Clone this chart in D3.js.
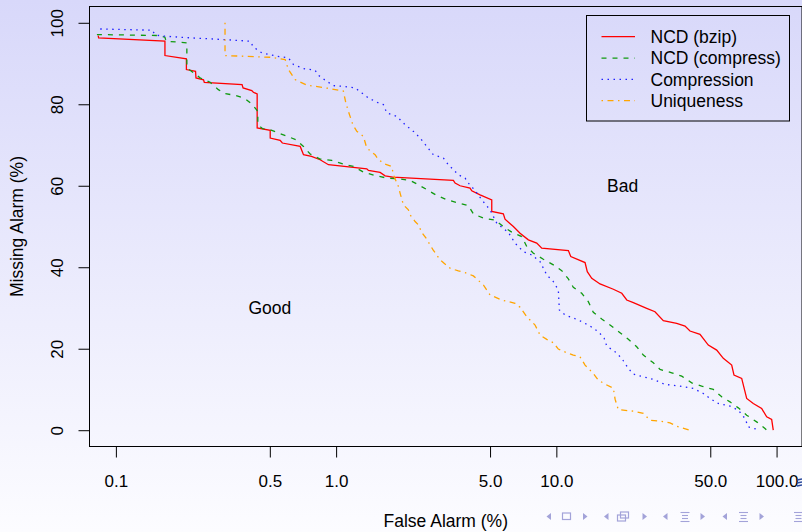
<!DOCTYPE html>
<html>
<head>
<meta charset="utf-8">
<script src="https://cdn.jsdelivr.net/npm/d3@7"></script>
<style>
  html, body { margin: 0; padding: 0; }
  body { width: 802px; height: 532px; overflow: hidden; }
  text { font-family: 'Liberation Sans', Arial, Helvetica, sans-serif; fill: #000; }
</style>
</head>
<body>
<div id="chart"></div>
<script>
// axis ticks
const xLimits = [0.1, 99]
const xTicks = [0.1, 0.5, 1, 5, 10, 50, 100]
const xTickLabels = ['0.1', '0.5', '1.0', '5.0', '10.0', '50.0', '100.0']
const yLimits = [0, 100]
const yTicks = [0, 20, 40, 60, 80, 100]

const seriesNames = ['NCD (bzip)', 'NCD (compress)', 'Compression', 'Uniqueness']
const regionLabels = ['Good', 'Bad']
const regionX = [0.5, 20]
const regionY = [30, 60]

// [false alarm %, missing alarm %]
const ncdBzip = [
  [0.0831, 96.88], [0.0835, 96.31], [0.167, 95.48], [0.167, 91.96], [0.209, 91.15], [0.209, 88.52],
  [0.230, 88.10], [0.231, 86.48], [0.250, 85.99], [0.252, 85.40], [0.374, 84.83], [0.378, 84.02],
  [0.414, 83.35], [0.421, 82.94], [0.438, 82.54], [0.438, 74.18], [0.502, 73.59], [0.502, 71.72],
  [0.557, 71.13], [0.570, 70.49], [0.687, 69.66], [0.711, 67.62], [0.773, 67.20], [0.846, 66.39],
  [0.923, 65.16], [1.378, 64.17], [1.402, 63.76], [1.584, 63.27], [1.669, 62.45], [1.809, 62.13],
  [3.408, 61.30], [3.469, 60.66], [3.655, 60.00], [4.057, 59.43], [4.130, 58.77], [4.505, 57.78],
  [5.090, 56.55], [5.090, 53.68], [5.745, 53.11], [5.848, 51.81], [6.380, 49.99], [6.843, 48.37],
  [7.463, 46.72], [8.147, 45.91], [8.586, 44.68], [11.34, 44.09], [11.63, 42.61], [13.50, 41.14],
  [13.82, 38.92], [14.48, 37.30], [15.79, 35.90], [18.15, 34.60], [19.82, 33.61], [20.88, 31.96],
  [22.37, 31.30], [25.72, 29.92], [28.05, 29.09], [30.60, 26.87], [35.20, 26.24], [38.39, 25.57],
  [40.45, 24.34], [44.91, 23.53], [48.98, 20.90], [53.47, 19.67], [57.30, 17.63], [62.55, 15.98],
  [64.07, 13.52], [69.44, 12.71], [73.16, 7.79], [78.39, 6.56], [85.56, 5.34], [90.18, 3.27],
  [95.0, 2.63], [96.6, 0]
]
const ncdCompress = [
  [0.0820, 97.12], [0.156, 96.88], [0.167, 96.46], [0.169, 95.48], [0.210, 95.08], [0.210, 88.94],
  [0.229, 87.46], [0.241, 86.48], [0.268, 85.40], [0.292, 83.60], [0.313, 82.62], [0.348, 82.20],
  [0.386, 81.39], [0.417, 79.91], [0.441, 78.26], [0.441, 74.99], [0.464, 74.01], [0.502, 73.76],
  [0.547, 72.95], [0.658, 71.31], [0.711, 69.66], [0.762, 67.79], [0.846, 66.56], [0.956, 66.22],
  [1.079, 65.33], [1.198, 64.74], [1.330, 63.36], [1.503, 62.53], [1.699, 61.89], [1.918, 61.72],
  [2.168, 61.30], [2.364, 60.24], [2.624, 58.84], [2.865, 57.61], [3.180, 56.55], [3.531, 55.89],
  [3.986, 55.15], [4.200, 53.11], [4.663, 52.05], [5.270, 51.56], [5.745, 49.99], [6.275, 48.61],
  [6.966, 47.53], [7.339, 45.07], [7.865, 43.45], [8.730, 41.97], [9.692, 40.57], [10.58, 39.17],
  [11.34, 37.13], [11.94, 35.09], [13.04, 33.61], [13.97, 31.55], [14.72, 28.94], [16.07, 27.29],
  [17.84, 25.50], [19.46, 23.92], [21.23, 22.30], [23.17, 20.48], [24.83, 18.44], [27.56, 16.55],
  [29.56, 14.93], [33.40, 14.09], [37.10, 13.28], [41.17, 11.63], [45.71, 10.82], [51.61, 10.01],
  [56.35, 8.19], [61.45, 6.96], [67.02, 5.48], [73.16, 3.69], [81.21, 2.04], [88.60, 0.42], [90.18, 0]
]
const compression = [
  [0.0849, 98.48], [0.146, 98.18], [0.151, 97.00], [0.167, 96.71], [0.217, 96.31], [0.308, 95.89],
  [0.407, 95.48], [0.421, 94.05], [0.460, 92.62], [0.538, 91.79], [0.607, 91.39], [0.640, 89.75],
  [0.711, 88.76], [0.803, 88.35], [0.831, 87.12], [0.907, 85.64], [0.972, 84.58], [1.079, 84.41],
  [1.219, 84.02], [1.308, 82.79], [1.402, 81.56], [1.556, 80.33], [1.639, 79.91], [1.699, 77.87],
  [1.886, 77.04], [2.057, 74.99], [2.244, 73.35], [2.406, 71.72], [2.580, 69.66], [2.764, 67.62],
  [3.069, 66.81], [3.234, 65.16], [3.408, 63.93], [3.591, 62.70], [3.851, 61.89], [3.986, 60.66],
  [4.276, 58.84], [4.585, 56.55], [5.000, 54.09], [5.363, 50.82], [6.054, 48.56], [6.494, 45.91],
  [7.083, 43.84], [7.733, 43.03], [8.433, 41.38], [9.045, 38.11], [9.692, 36.46], [10.21, 34.42],
  [10.32, 29.51], [10.95, 28.28], [12.59, 27.05], [14.22, 25.57], [15.51, 24.17], [16.47, 22.62],
  [16.94, 20.65], [18.48, 19.25], [19.82, 17.63], [21.23, 15.17], [22.37, 13.77], [24.83, 13.11],
  [27.56, 12.47], [31.15, 11.24], [36.44, 10.82], [41.88, 10.25], [46.49, 9.02], [49.85, 7.79],
  [54.38, 6.56], [61.45, 5.90], [67.02, 4.92], [71.88, 2.88], [74.39, 0.81], [81.21, 0.25], [84.04, 0]
]
const uniqueness = [
  [0.313, 100], [0.313, 91.96], [0.502, 91.54], [0.587, 90.98], [0.607, 88.52], [0.651, 86.06],
  [0.736, 84.71], [0.939, 83.85], [1.079, 83.23], [1.107, 80.33], [1.137, 78.26], [1.191, 74.99],
  [1.242, 73.35], [1.330, 72.12], [1.378, 69.26], [1.503, 67.62], [1.556, 66.39], [1.669, 65.33],
  [1.790, 64.74], [1.820, 62.70], [1.918, 59.82], [1.952, 58.20], [2.021, 55.32], [2.129, 54.09],
  [2.168, 52.86], [2.284, 51.22], [2.364, 50.41], [2.449, 48.51], [2.561, 47.14], [2.756, 44.26],
  [2.966, 41.80], [3.292, 39.76], [3.591, 39.10], [3.851, 38.68], [4.200, 37.87], [4.663, 35.65],
  [5.000, 33.19], [5.650, 31.96], [6.494, 31.15], [6.843, 30.17], [7.339, 27.86], [8.005, 25.82],
  [8.433, 23.36], [9.045, 22.30], [9.692, 21.47], [10.21, 19.92], [11.15, 19.01], [11.94, 18.44],
  [12.81, 18.02], [13.50, 15.98], [14.72, 13.94], [15.51, 12.29], [16.64, 11.31], [18.15, 10.33],
  [18.48, 7.62], [19.11, 5.04], [22.37, 4.67], [24.83, 4.11], [26.63, 2.46], [29.56, 2.21],
  [32.81, 1.79], [35.20, 0.98], [40.45, 0]
]

const seriesData = [ncdBzip, ncdCompress, compression, uniqueness]

// line styles, one per series (R lty 1, 2, 3, 4)
const lineStyles = [
  { color: '#ff0000', dash: null },
  { color: '#119a11', dash: '5,6' },
  { color: '#2020ff', dash: '1.5,4.5' },
  { color: '#ffa500', dash: '1.5,4.5,6,4.5' }
]

const dimensions = {
  width: 802,
  height: 532,
  margin: { top: 6.5, right: 0, bottom: 85.5, left: 89.5 }
}
const plotRight = dimensions.width - dimensions.margin.right
const plotBottom = dimensions.height - dimensions.margin.bottom

const svg = d3.select('#chart').append('svg')
  .attr('width', dimensions.width)
  .attr('height', dimensions.height)

// beamer background shading
const grad = svg.append('defs').append('linearGradient')
  .attr('id', 'bg')
  .attr('x1', 0).attr('y1', 0).attr('x2', 0).attr('y2', 1)
grad.append('stop').attr('offset', '0%').attr('stop-color', '#d8d8fa')
grad.append('stop').attr('offset', '100%').attr('stop-color', '#fcfcff')
svg.append('rect')
  .attr('width', dimensions.width)
  .attr('height', dimensions.height)
  .attr('fill', 'url(#bg)')

// R style 4% range extension, on log scale for x
const lx = xLimits.map(Math.log10)
const xPad = (lx[1] - lx[0]) * 0.04
const yPad = (yLimits[1] - yLimits[0]) * 0.04

const xScale = d3.scaleLog()
  .domain([Math.pow(10, lx[0] - xPad), Math.pow(10, lx[1] + xPad)])
  .range([dimensions.margin.left, plotRight])

const yScale = d3.scaleLinear()
  .domain([yLimits[0] - yPad, yLimits[1] + yPad])
  .range([plotBottom, dimensions.margin.top])

// axes
const xAxisContainer = svg.append('g')
  .attr('transform', `translate(0, ${plotBottom})`)
  .call(d3.axisBottom(xScale)
    .tickValues(xTicks)
    .tickFormat((d, i) => xTickLabels[i])
    .tickSize(11)
    .tickPadding(17)
    .tickSizeOuter(0))
xAxisContainer.select('.domain').remove()
xAxisContainer.selectAll('.tick text')
  .attr('font-size', '17px')
  .attr('font-family', null)
  .attr('fill', '#000')

const yAxisContainer = svg.append('g')
  .attr('transform', `translate(${dimensions.margin.left}, 0)`)
  .call(d3.axisLeft(yScale)
    .tickValues(yTicks)
    .tickSize(11)
    .tickSizeOuter(0))
yAxisContainer.select('.domain').remove()
yAxisContainer.selectAll('.tick text')
  .attr('transform', 'rotate(-90)')
  .attr('x', 0)
  .attr('y', -26.5)
  .attr('dy', null)
  .attr('text-anchor', 'middle')
  .attr('font-size', '17px')
  .attr('font-family', null)
  .attr('fill', '#000')

svg.selectAll('.tick line').attr('stroke', '#000')

// axis titles
svg.append('text')
  .attr('x', (dimensions.margin.left + plotRight) / 2)
  .attr('y', 526.5)
  .attr('text-anchor', 'middle')
  .attr('font-size', '17.5px')
  .text('False Alarm (%)')

svg.append('text')
  .attr('transform', `translate(22.5, ${(dimensions.margin.top + plotBottom) / 2}) rotate(-90)`)
  .attr('text-anchor', 'middle')
  .attr('font-size', '17.5px')
  .text('Missing Alarm (%)')

// curves
const bounds = svg.append('g')

const line = d3.line()
  .x(d => xScale(d[0]))
  .y(d => yScale(d[1]))

bounds.selectAll('path.curve')
  .data(seriesData)
  .join('path')
  .attr('class', 'curve')
  .attr('d', line)
  .attr('fill', 'none')
  .attr('stroke', (d, i) => lineStyles[i].color)
  .attr('stroke-width', 1.3)
  .attr('stroke-dasharray', (d, i) => lineStyles[i].dash)

// Good / Bad labels
bounds.selectAll('text.region')
  .data(regionLabels)
  .join('text')
  .attr('class', 'region')
  .attr('x', (d, i) => xScale(regionX[i]))
  .attr('y', (d, i) => yScale(regionY[i]))
  .attr('dy', '0.35em')
  .attr('text-anchor', 'middle')
  .attr('font-size', '17.5px')
  .text(d => d)

// plot box
svg.append('rect')
  .attr('x', dimensions.margin.left)
  .attr('y', dimensions.margin.top)
  .attr('width', plotRight - dimensions.margin.left)
  .attr('height', plotBottom - dimensions.margin.top)
  .attr('fill', 'none')
  .attr('stroke', '#000')
  .attr('stroke-width', 1)

// legend
const legend = svg.append('g')
  .attr('transform', 'translate(586.5, 15.5)')
legend.append('rect')
  .attr('width', 203)
  .attr('height', 105.5)
  .attr('fill', 'none')
  .attr('stroke', '#000')
  .attr('stroke-width', 1)

const legendRows = legend.selectAll('g.row')
  .data(seriesNames)
  .join('g')
  .attr('class', 'row')
  .attr('transform', (d, i) => `translate(0, ${21.2 + i * 21.33})`)
legendRows.append('line')
  .attr('x1', 15)
  .attr('x2', 48.5)
  .attr('stroke', (d, i) => lineStyles[i].color)
  .attr('stroke-width', 1.3)
  .attr('stroke-dasharray', (d, i) => lineStyles[i].dash)
legendRows.append('text')
  .attr('x', 64)
  .attr('dy', '0.36em')
  .attr('font-size', '17.5px')
  .text(d => d)

// beamer navigation symbols (decoration)
const nav = svg.append('g')
  .attr('transform', 'translate(0, 516.5)')
  .attr('fill', '#a3a3d9')
  .attr('stroke', '#a3a3d9')
const leftArrows = [549, 606.5, 665.5, 725]
const rightArrows = [585, 644.5, 702.5, 761.5]
nav.selectAll('path.la')
  .data(leftArrows)
  .join('path')
  .attr('class', 'la')
  .attr('stroke', 'none')
  .attr('d', d => `M${d - 2.5},0 L${d + 2},-3.5 L${d + 2},3.5 Z`)
nav.selectAll('path.ra')
  .data(rightArrows)
  .join('path')
  .attr('class', 'ra')
  .attr('stroke', 'none')
  .attr('d', d => `M${d + 2.5},0 L${d - 2},-3.5 L${d - 2},3.5 Z`)
nav.append('rect')
  .attr('x', 562.5).attr('y', -3.5).attr('width', 8).attr('height', 6.5)
  .attr('fill', 'none').attr('stroke-width', 1.2)
nav.append('rect')
  .attr('x', 617.5).attr('y', -1.5).attr('width', 8).attr('height', 6)
  .attr('fill', 'none').attr('stroke-width', 1.2)
nav.append('rect')
  .attr('x', 620.5).attr('y', -4.5).attr('width', 8).attr('height', 6)
  .attr('fill', 'none').attr('stroke-width', 1.2)
const menus = [685, 743.5, 798.5]
menus.forEach(cx => {
  ;[-4, -1, 2, 5].forEach((dy, k) => {
    nav.append('line')
      .attr('x1', cx - (k % 3 === 0 ? 4.5 : 3))
      .attr('x2', cx + (k % 3 === 0 ? 4.5 : 3))
      .attr('y1', dy).attr('y2', dy)
      .attr('stroke-width', 1.1)
  })
})
svg.append('path')
  .attr('d', 'M797,480 L802,479 M797,483 L802,482 M797,486 L802,485')
  .attr('stroke', '#2b4a9c')
  .attr('stroke-width', 1.4)
</script>
</body>
</html>
